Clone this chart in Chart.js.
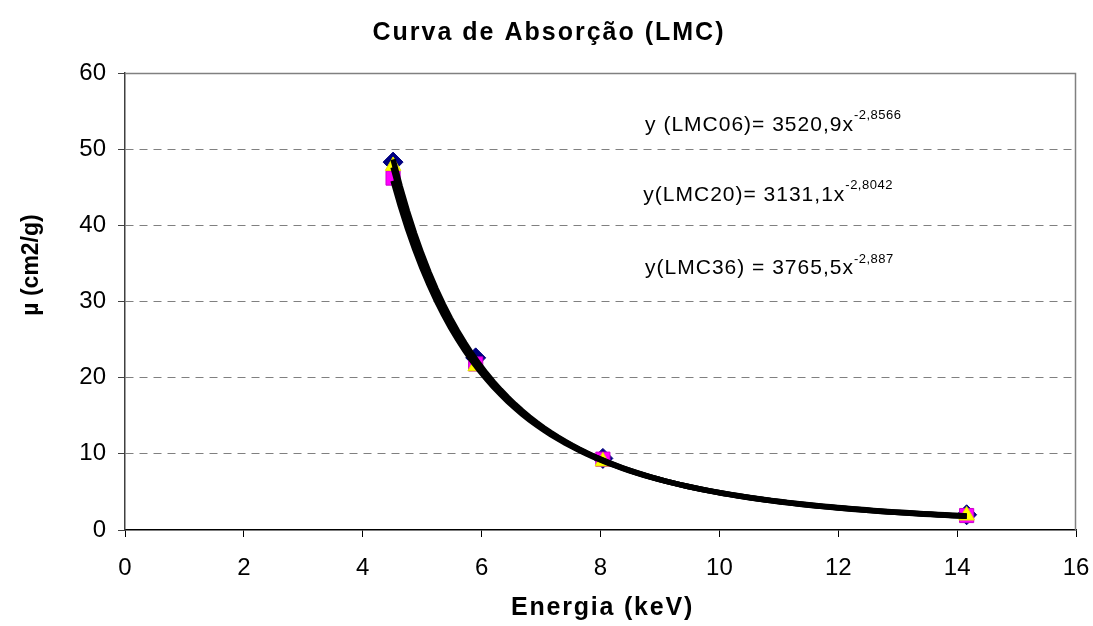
<!DOCTYPE html>
<html>
<head>
<meta charset="utf-8">
<script src="https://cdn.jsdelivr.net/npm/chart.js@4/dist/chart.umd.min.js"></script>
<style>
  html, body { margin: 0; padding: 0; background: #fff; }
  canvas { display: block; }
</style>
</head>
<body>
<canvas id="chart" width="1093" height="626"></canvas>
<script>
'use strict';

// measured energies (keV) and mass absorption coefficients (cm2/g)
const energies = [4.51, 5.9, 8.04, 14.16];
const muLMC06 = [48.3, 22.6, 9.4, 2.0];
const muLMC20 = [46.2, 21.8, 9.3, 1.9];
const muLMC36 = [47.8, 21.5, 9.0, 1.9];

// power-law fits y = a * x^b
const fitNames = ['y (LMC06)= 3520,9x', 'y(LMC20)= 3131,1x', 'y(LMC36) = 3765,5x'];
const fitExp = ['-2,8566', '-2,8042', '-2,887'];
const fitA = [3520.9, 3131.1, 3765.5];
const fitB = [-2.8566, -2.8042, -2.887];
// where each equation is written, in axis units
const eqX = [8.75, 8.72, 8.75];
const eqY = [53.2, 44.0, 34.4];

const xTicks = [0, 2, 4, 6, 8, 10, 12, 14, 16];
const yTicks = [0, 10, 20, 30, 40, 50, 60];

const FONT = '"Liberation Sans", Arial, sans-serif';

function trendPoints(a, b) {
    let pts = [];
    let x0 = energies[0], x1 = energies[energies.length - 1];
    let n = 80;
    for (let i = 0; i <= n; i++) {
        let x = x0 + (x1 - x0) * i / n;
        pts.push({x: x, y: a * Math.pow(x, b)});
    }
    return pts;
}

function pointsOf(ys) {
    return energies.map((x, i) => ({x: x, y: ys[i]}));
}

let datasets = [
    {
        label: 'LMC06', data: pointsOf(muLMC06), showLine: false,
        pointStyle: 'rectRot', pointRadius: 10, pointHoverRadius: 10,
        backgroundColor: '#000080', borderColor: '#000080', borderWidth: 1, order: 3
    },
    {
        label: 'LMC20', data: pointsOf(muLMC20), showLine: false,
        pointStyle: 'rect', pointRadius: 10, pointHoverRadius: 10,
        backgroundColor: '#ff00ff', borderColor: '#cc00cc', borderWidth: 1, order: 2
    },
    {
        label: 'LMC36', data: pointsOf(muLMC36), showLine: false,
        pointStyle: 'triangle', pointRadius: 9, pointHoverRadius: 9,
        backgroundColor: '#ffff00', borderColor: '#e6e600', borderWidth: 1, order: 1
    }
];
for (let i = 0; i < fitA.length; i++) {
    datasets.push({
        label: 'fit ' + i, data: trendPoints(fitA[i], fitB[i]), showLine: true,
        borderColor: '#000', borderWidth: 5.5, pointRadius: 0, tension: 0,
        fill: false, order: 0
    });
}

// frame, titles and fit equations
const decorations = {
    id: 'decorations',
    afterDraw(chart) {
        const ctx = chart.ctx;
        const a = chart.chartArea;
        const xs = chart.scales.x, ys = chart.scales.y;
        ctx.save();
        ctx.strokeStyle = '#808080';
        ctx.lineWidth = 1.5;
        ctx.beginPath();
        ctx.moveTo(a.left, a.top + 0.5);
        ctx.lineTo(a.right - 0.5, a.top + 0.5);
        ctx.lineTo(a.right - 0.5, a.bottom);
        ctx.stroke();

        ctx.fillStyle = '#000';
        ctx.textBaseline = 'middle';
        ctx.textAlign = 'left';
        for (let i = 0; i < fitNames.length; i++) {
            let px = xs.getPixelForValue(eqX[i]);
            let py = ys.getPixelForValue(eqY[i]);
            ctx.letterSpacing = '1px';
            ctx.font = '21px ' + FONT;
            ctx.fillText(fitNames[i], px, py);
            let w = ctx.measureText(fitNames[i]).width;
            ctx.letterSpacing = '0.5px';
            ctx.font = '13px ' + FONT;
            ctx.fillText(fitExp[i], px + w, py - 9);
        }

        ctx.textAlign = 'center';
        ctx.letterSpacing = '2px';
        ctx.font = 'bold 25px ' + FONT;
        ctx.fillText('Curva de Absorção (LMC)', 549, 33);

        ctx.letterSpacing = '1.8px';
        ctx.fillText('Energia (keV)', (a.left + a.right) / 2 + 2, 608);

        ctx.translate(32, 265);
        ctx.rotate(-Math.PI / 2);
        ctx.letterSpacing = '0px';
        ctx.font = 'bold 23px ' + FONT;
        ctx.fillText('\u00b5 (cm2/g)', 0, 0);
        ctx.letterSpacing = '0px';
        ctx.restore();
    }
};

Chart.defaults.font.family = FONT;
Chart.defaults.color = '#000';

new Chart(document.getElementById('chart'), {
    type: 'scatter',
    data: {datasets: datasets},
    options: {
        responsive: false,
        animation: false,
        devicePixelRatio: 1,
        layout: {padding: {left: 0, right: 17, top: 73, bottom: 0}},
        plugins: {
            legend: {display: false},
            tooltip: {enabled: false},
            title: {display: false}
        },
        scales: {
            x: {
                type: 'linear', min: 0, max: 16,
                afterBuildTicks: s => { s.ticks = xTicks.map(v => ({value: v})); },
                afterFit: s => { s.height = 96; s.paddingLeft = 0; s.paddingRight = 0; },
                ticks: {font: {size: 24}, padding: 17, maxRotation: 0},
                grid: {drawOnChartArea: false, tickLength: 7, tickColor: '#000', tickWidth: 1},
                border: {color: '#000', width: 1.5}
            },
            y: {
                type: 'linear', min: 0, max: 60,
                afterBuildTicks: s => { s.ticks = yTicks.map(v => ({value: v})); },
                afterFit: s => { s.width = 125; s.paddingTop = 0; s.paddingBottom = 0; },
                ticks: {font: {size: 24}, padding: 12},
                grid: {
                    color: c => (c.tick && (c.tick.value === 0 || c.tick.value === 60)) ? 'rgba(0,0,0,0)' : '#808080',
                    lineWidth: 1,
                    tickLength: 7, tickColor: '#404040', tickBorderDash: []
                },
                border: {color: '#404040', width: 1.5, dash: [8, 6]}
            }
        }
    },
    plugins: [decorations]
});
</script>
</body>
</html>
